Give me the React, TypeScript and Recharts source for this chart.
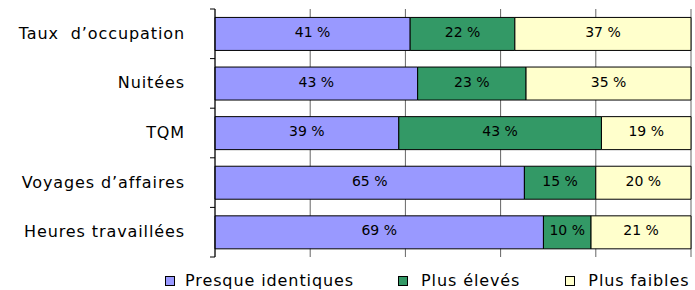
import React from "react";
import { Bar, BarChart, CartesianGrid, LabelList, Legend, XAxis, YAxis } from "recharts";

// Share of answers per indicator (percent). Rows sum to ~100, bars are drawn as 100 % stacks.
const categories = [
  "Taux  d’occupation",
  "Nuitées",
  "TQM",
  "Voyages d’affaires",
  "Heures travaillées",
];
const identiques = [41, 43, 39, 65, 69];
const eleves = [22, 23, 43, 15, 10];
const faibles = [37, 35, 19, 20, 21];
const xTicks = [0, 0.2, 0.4, 0.6, 0.8, 1];

const series = [
  { key: "identiques", name: "Presque identiques", color: "#9999FF" },
  { key: "eleves", name: "Plus élevés", color: "#339966" },
  { key: "faibles", name: "Plus faibles", color: "#FFFFCC" },
];

const data = categories.map((c, i) => ({
  cat: c,
  identiques: identiques[i],
  eleves: eleves[i],
  faibles: faibles[i],
}));

const FONT = "'DejaVu Sans', sans-serif";
const TICK_MARGIN = 24;
const TICK_SIZE = 6;

function CategoryTick(props: any) {
  const { x, y, payload, index } = props;
  const axisX = x + TICK_SIZE + TICK_MARGIN;
  const half = payload.offset ?? 0;
  return (
    <g>
      <line x1={axisX - 5} x2={axisX} y1={y - half} y2={y - half} stroke="#000" />
      {index === categories.length - 1 && (
        <line x1={axisX - 5} x2={axisX} y1={y + half} y2={y + half} stroke="#000" />
      )}
      <text
        x={x}
        y={y}
        dy={5}
        textAnchor="end"
        fontSize={16}
        letterSpacing={0.9}
        fontFamily={FONT}
        fill="#000"
        style={{ whiteSpace: "pre" }}
      >
        {payload.value}
      </text>
    </g>
  );
}

function LegendContent() {
  return (
    <div
      style={{
        height: 33,
        display: "flex",
        paddingLeft: 165,
        alignItems: "flex-end",
        fontFamily: FONT,
        fontSize: 16,
        letterSpacing: 0.9,
        lineHeight: "18px",
        color: "#000",
      }}
    >
      {series.map((s, i) => (
        <div key={s.key} style={{ display: "flex", alignItems: "center" }}>
          <span
            style={{
              width: 8,
              height: 8,
              background: s.color,
              border: "1px solid #000",
              marginRight: i === 0 ? 10 : 13,
              display: "inline-block",
            }}
          />
          <span style={{ marginRight: i === 0 ? 44 : 45, whiteSpace: "nowrap" }}>{s.name}</span>
        </div>
      ))}
    </div>
  );
}

export default function App() {
  return (
    <div style={{ position: "absolute", left: 0, top: 0, width: 695, height: 290, background: "#fff", overflow: "hidden" }}>
      <BarChart
        width={695}
        height={290}
        data={data}
        layout="vertical"
        stackOffset="expand"
        barCategoryGap="17%"
        margin={{ top: 9, right: 4, bottom: 0, left: 0 }}
      >
        <CartesianGrid
          horizontal={false}
          vertical
          stroke="#666"
          verticalCoordinatesGenerator={({ offset }: any) =>
            xTicks.map((t) => offset.left + t * offset.width)
          }
        />
        <XAxis
          type="number"
          domain={[0, 1]}
          ticks={xTicks}
          tick={false}
          tickLine={false}
          axisLine={false}
          height={0}
        />
        <YAxis
          type="category"
          dataKey="cat"
          width={215}
          tickSize={TICK_SIZE}
          tickMargin={TICK_MARGIN}
          tickLine={false}
          axisLine={{ stroke: "#000" }}
          tick={<CategoryTick />}
          interval={0}
        />
        {series.map((s) => (
          <Bar
            key={s.key}
            dataKey={s.key}
            name={s.name}
            stackId="a"
            fill={s.color}
            stroke="#000"
            strokeWidth={1}
            isAnimationActive={false}
          >
            <LabelList
              dataKey={s.key}
              position="center"
              formatter={(v: any) => `${v} %`}
              fill="#000"
              fontSize={14}
              fontFamily={FONT}
              dy={-2}
            />
          </Bar>
        ))}
        <Legend verticalAlign="bottom" content={<LegendContent />} />
      </BarChart>
    </div>
  );
}
